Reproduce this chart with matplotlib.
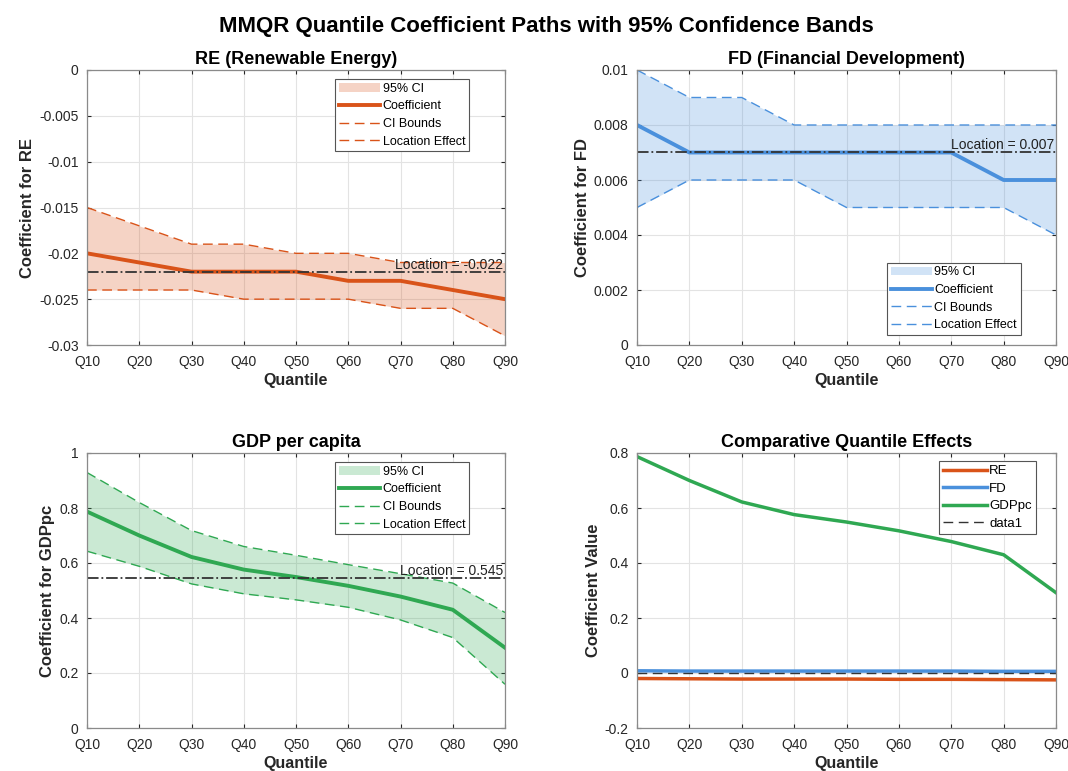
import matplotlib
matplotlib.use('Agg')
import matplotlib.pyplot as plt
import numpy as np

plt.rcParams['font.family'] = ['Liberation Sans', 'DejaVu Sans']

# quantile labels
quantiles = ['Q10', 'Q20', 'Q30', 'Q40', 'Q50', 'Q60', 'Q70', 'Q80', 'Q90']

# RE (renewable energy)
re_coef = [-0.020, -0.021, -0.022, -0.022, -0.022, -0.023, -0.023, -0.024, -0.025]
re_upper = [-0.015, -0.017, -0.019, -0.019, -0.020, -0.020, -0.021, -0.021, -0.021]
re_lower = [-0.024, -0.024, -0.024, -0.025, -0.025, -0.025, -0.026, -0.026, -0.029]
re_loc = -0.022

# FD (financial development)
fd_coef = [0.008, 0.007, 0.007, 0.007, 0.007, 0.007, 0.007, 0.006, 0.006]
fd_upper = [0.010, 0.009, 0.009, 0.008, 0.008, 0.008, 0.008, 0.008, 0.008]
fd_lower = [0.005, 0.006, 0.006, 0.006, 0.005, 0.005, 0.005, 0.005, 0.004]
fd_loc = 0.007

# GDP per capita
gdp_coef = [0.787, 0.700, 0.622, 0.576, 0.549, 0.517, 0.478, 0.430, 0.292]
gdp_upper = [0.929, 0.820, 0.718, 0.660, 0.628, 0.594, 0.561, 0.527, 0.420]
gdp_lower = [0.643, 0.588, 0.524, 0.488, 0.466, 0.439, 0.393, 0.329, 0.159]
gdp_loc = 0.545

c_re = '#D95319'
c_fd = '#4A90DC'
c_gdp = '#2FA852'
tick_col = '#262626'

x = np.arange(1, len(quantiles) + 1)

fig = plt.figure(figsize=(10.68, 7.71), dpi=100)
fig.suptitle('MMQR Quantile Coefficient Paths with 95% Confidence Bands',
             fontsize=16, fontweight='bold', x=0.512, y=0.979)

W, H = 1068, 771
def box(l, t, r, b):
    return [l / W, (H - b) / H, (r - l) / W, (b - t) / H]

ax1 = fig.add_axes(box(87, 70, 505, 345))
ax2 = fig.add_axes(box(637, 70, 1056, 345))
ax3 = fig.add_axes(box(87, 453, 505, 728))
ax4 = fig.add_axes(box(637, 453, 1056, 728))


def style(ax):
    ax.set_xlim(1, 9)
    ax.set_xticks(x)
    ax.set_xticklabels(quantiles)
    ax.grid(True, color='#e3e3e3', linewidth=0.8)
    ax.set_axisbelow(True)
    ax.tick_params(direction='in', labelsize=10, colors=tick_col, length=3,
                   top=True, right=True, labelcolor=tick_col)
    ax.tick_params(axis='x', pad=7)
    ax.tick_params(axis='y', pad=6)
    for s in ax.spines.values():
        s.set_color('#8a8a8a')
        s.set_linewidth(0.9)
    ax.set_xlabel('Quantile', fontsize=11.5, fontweight='bold', color=tick_col, labelpad=3)


def band_panel(ax, coef, up, lo, loc, color, title, ylabel, ylim, yticks, ytl, legloc, anchor, fmt):
    f = ax.fill_between(x, lo, up, color=color, alpha=0.25, linewidth=0)
    ln, = ax.plot(x, coef, color=color, linewidth=2.8)
    u, = ax.plot(x, up, '--', color=color, linewidth=1, dashes=(7, 4))
    l, = ax.plot(x, lo, '--', color=color, linewidth=1, dashes=(7, 4))
    ax.axhline(loc, color='#333333', linestyle='-.', linewidth=1.3)
    ax.text(8.97, loc, 'Location = ' + fmt % loc, ha='right', va='bottom',
            fontsize=10, color='#222222')
    ax.set_ylim(*ylim)
    ax.set_yticks(yticks)
    ax.set_yticklabels(ytl)
    ax.set_title(title, fontsize=13, fontweight='bold', pad=4)
    ax.set_ylabel(ylabel, fontsize=12, fontweight='bold', color=tick_col, labelpad=3)
    style(ax)
    leg = ax.legend([f, ln, u, l], ['95% CI', 'Coefficient', 'CI Bounds', 'Location Effect'],
                    loc=legloc, bbox_to_anchor=anchor, fontsize=9, handlelength=3.3,
                    fancybox=False, edgecolor='#555555', framealpha=1,
                    borderpad=0.3, labelspacing=0.45, handletextpad=0.2,
                    borderaxespad=0)
    leg.get_frame().set_linewidth(0.8)


band_panel(ax1, re_coef, re_upper, re_lower, re_loc, c_re, 'RE (Renewable Energy)',
           'Coefficient for RE', (-0.03, 0), np.arange(-0.03, 0.0001, 0.005),
           ['-0.03', '-0.025', '-0.02', '-0.015', '-0.01', '-0.005', '0'],
           'upper right', (0.914, 0.967), '%.3f')
band_panel(ax2, fd_coef, fd_upper, fd_lower, fd_loc, c_fd, 'FD (Financial Development)',
           'Coefficient for FD', (0, 0.01), np.arange(0, 0.0101, 0.002),
           ['0', '0.002', '0.004', '0.006', '0.008', '0.01'],
           'lower right', (0.916, 0.036), '%.3f')
band_panel(ax3, gdp_coef, gdp_upper, gdp_lower, gdp_loc, c_gdp, 'GDP per capita',
           'Coefficient for GDPpc', (0, 1), np.arange(0, 1.01, 0.2),
           ['0', '0.2', '0.4', '0.6', '0.8', '1'],
           'upper right', (0.914, 0.967), '%.3f')

# comparative panel
ax4.plot(x, re_coef, color=c_re, linewidth=2.5, label='RE')
ax4.plot(x, fd_coef, color=c_fd, linewidth=2.5, label='FD')
ax4.plot(x, gdp_coef, color=c_gdp, linewidth=2.5, label='GDPpc')
ax4.axhline(0, color='#333333', linestyle='--', linewidth=1, dashes=(7, 4), label='data1')
ax4.set_ylim(-0.2, 0.8)
ax4.set_yticks(np.arange(-0.2, 0.81, 0.2))
ax4.set_yticklabels(['-0.2', '0', '0.2', '0.4', '0.6', '0.8'])
ax4.set_title('Comparative Quantile Effects', fontsize=13, fontweight='bold', pad=4)
ax4.set_ylabel('Coefficient Value', fontsize=12, fontweight='bold', color=tick_col, labelpad=3)
style(ax4)
leg = ax4.legend(loc='upper right', bbox_to_anchor=(0.952, 0.971), fontsize=9.5,
                 handlelength=3.3, fancybox=False, edgecolor='#555555', framealpha=1,
                 borderpad=0.3, labelspacing=0.4, handletextpad=0.2, borderaxespad=0)
leg.get_frame().set_linewidth(0.8)

fig.savefig('out.png', dpi=100)
